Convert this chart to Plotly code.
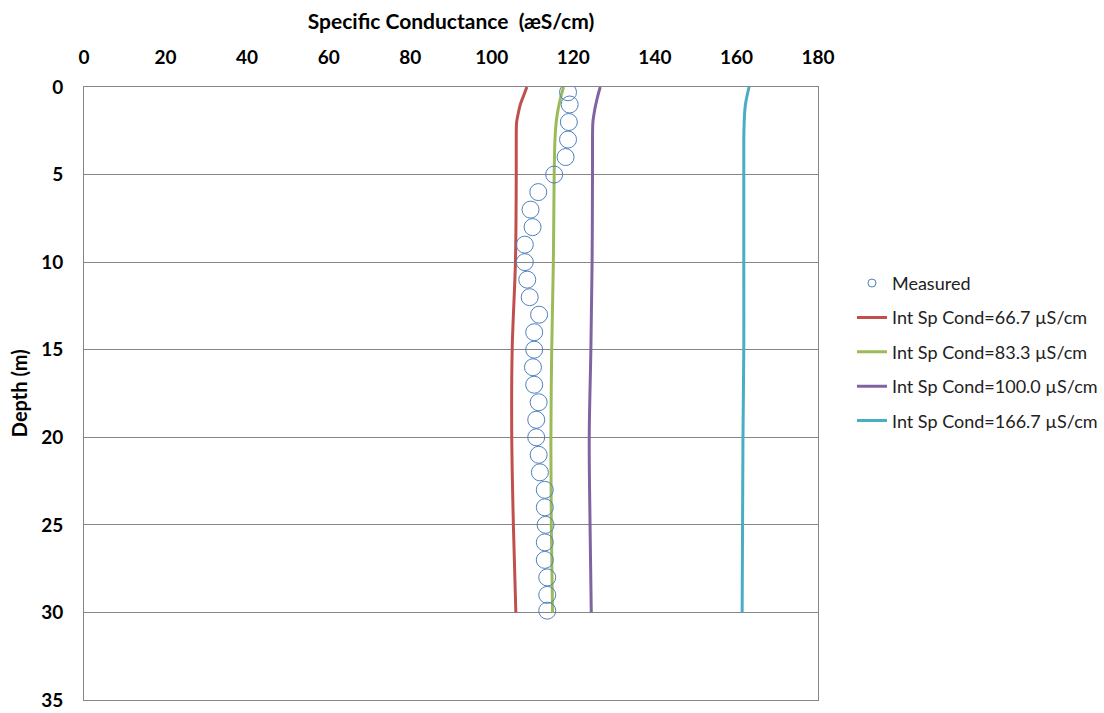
import plotly.graph_objects as go

# Measured specific conductance profile
meas_depth = [0.3, 1, 2, 3, 4, 5, 6, 7, 8, 9, 10, 11, 12, 13, 14, 15, 16, 17, 18, 19,
              20, 21, 22, 23, 24, 25, 26, 27, 28, 29, 29.9]
meas_cond = [118.7, 119.1, 118.9, 118.7, 118.1, 115.3, 111.4, 109.5, 110.0, 108.1,
             108.1, 108.7, 109.3, 111.6, 110.4, 110.4, 110.1, 110.4, 111.5, 110.9,
             110.9, 111.5, 111.8, 113.0, 113.0, 113.2, 113.0, 113.0, 113.6, 113.6, 113.6]

# Modelled profiles for several initial specific conductances
model_depth = [0, 0.5, 1, 1.5, 2, 3, 5, 10, 15, 20, 25, 30]
cond_66 = [108.6, 107.8, 107.0, 106.5, 106.1, 106.0, 106.0, 105.8, 105.0, 104.9, 105.3, 105.9]
cond_83 = [117.6, 117.0, 116.5, 116.1, 115.8, 115.5, 115.3, 115.1, 114.7, 114.5, 114.6, 114.9]
cond_100 = [126.6, 126.0, 125.5, 125.1, 124.8, 124.7, 124.7, 124.6, 124.3, 123.9, 124.1, 124.4]
cond_166 = [163.1, 162.6, 162.2, 162.0, 161.9, 161.8, 161.8, 161.8, 161.8, 161.6, 161.5, 161.4]

x_ticks = [0, 20, 40, 60, 80, 100, 120, 140, 160, 180]
y_ticks = [0, 5, 10, 15, 20, 25, 30, 35]

model_series = [
    ("Int Sp Cond=66.7 \u00b5S/cm", cond_66, "#c0504d"),
    ("Int Sp Cond=83.3 \u00b5S/cm", cond_83, "#9bbb59"),
    ("Int Sp Cond=100.0 \u00b5S/cm", cond_100, "#8064a2"),
    ("Int Sp Cond=166.7 \u00b5S/cm", cond_166, "#4bacc6"),
]

FONT = "Lato"
fig = go.Figure()

for name, vals, col in model_series:
    fig.add_trace(go.Scatter(
        x=vals, y=model_depth, mode="lines", name=name,
        line=dict(color=col, width=3, shape="spline"),
        showlegend=False,
    ))

fig.add_trace(go.Scatter(
    x=meas_cond, y=meas_depth, mode="markers", name="Measured",
    marker=dict(symbol="circle-open", size=17, color="#4f81bd", line=dict(width=1)),
    showlegend=False,
))

# Legend entries
fig.add_trace(go.Scatter(
    x=[None], y=[None], mode="markers", name="Measured", legendgroup="g0",
    marker=dict(symbol="circle-open", size=8, color="#4f81bd", line=dict(width=1)),
))
for i, (name, vals, col) in enumerate(model_series):
    fig.add_trace(go.Scatter(
        x=[None], y=[None], mode="lines", name=name, legendgroup=f"g{i+1}",
        line=dict(color=col, width=3),
    ))

# Vertical axis label
fig.add_annotation(
    text="Depth (m)", xref="paper", yref="paper", x=-0.089, y=0.5,
    xanchor="center", yanchor="middle", textangle=-90, showarrow=False,
    font=dict(family=FONT, size=20, color="#000000", weight="bold"),
)

fig.update_layout(
    width=1104, height=713,
    margin=dict(l=84, r=286, t=87, b=13, autoexpand=False),
    paper_bgcolor="white", plot_bgcolor="white",
    font=dict(family=FONT, color="#000000"),
    legend=dict(
        x=1.0463, xanchor="left", y=0.568, yanchor="middle",
        font=dict(family=FONT, size=18, color="#222222"),
        tracegroupgap=8, itemwidth=30,
        bgcolor="rgba(0,0,0,0)",
    ),
    xaxis=dict(
        side="top", range=[0, 180], tickvals=x_ticks,
        ticktext=[str(v) for v in x_ticks],
        showgrid=False, zeroline=False, automargin=False,
        showline=True, linecolor="#868686", linewidth=1, mirror=True,
        ticks="", ticklabelstandoff=14,
        tickfont=dict(family=FONT, size=19, color="#000000", weight="bold"),
        title=dict(text="Specific Conductance  (\u00e6S/cm)",
                   font=dict(family=FONT, size=21, weight="bold"), standoff=10),
    ),
    yaxis=dict(
        range=[35, 0], tickvals=y_ticks, ticktext=[str(v) for v in y_ticks],
        showgrid=True, gridcolor="#868686", gridwidth=1, zeroline=False,
        automargin=False,
        showline=True, linecolor="#868686", linewidth=1, mirror=True,
        ticks="", ticklabelstandoff=16,
        tickfont=dict(family=FONT, size=19, color="#000000", weight="bold"),
    ),
)

fig.write_html("out.html")
